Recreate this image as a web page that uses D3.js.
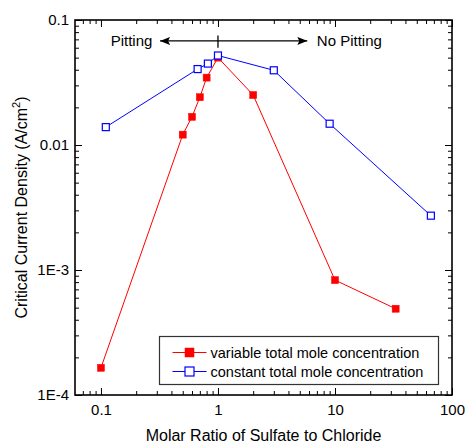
<!DOCTYPE html>
<html>
<head>
<meta charset="utf-8">
<script src="https://cdn.jsdelivr.net/npm/d3@7"></script>
<style>
  body { margin: 0; background: #fff; }
  svg { display: block; font-family: "Liberation Sans", Arial, sans-serif; }
</style>
</head>
<body>
<svg id="chart" width="465" height="443"></svg>
<script>
// data
const variableX = [0.1, 0.5, 0.6, 0.7, 0.8, 1, 2, 10, 33];
const variableY = [1.65e-4, 0.0121, 0.0168, 0.0241, 0.0346, 0.050, 0.0251, 8.3e-4, 4.9e-4];
const constantX = [0.11, 0.67, 0.82, 1, 3, 9, 66];
const constantY = [0.0139, 0.0405, 0.0448, 0.052, 0.0396, 0.0148, 0.00272];

const seriesNames = ["variable total mole concentration", "constant total mole concentration"];
const xTicks = [0.1, 1, 10, 100];
const xTickLabels = ["0.1", "1", "10", "100"];
const yTicks = [1e-4, 1e-3, 0.01, 0.1];
const yTickLabels = ["1E-4", "1E-3", "0.01", "0.1"];
const xDomain = [0.06, 100];
const yDomain = [1e-4, 0.1];

// annotation (data space)
const arrowY = 0.068, arrowLeft = 0.32, arrowRight = 5.8, dividerX = 1;
const dividerTop = 0.075, dividerBottom = 0.06;
const leftLabel = "Pitting", rightLabel = "No Pitting";
const leftLabelX = 0.275, rightLabelX = 7.0;

const width = 465, height = 443;
const margin = {top: 20, right: 13, bottom: 48, left: 75};
const font = '"Liberation Sans", Arial, sans-serif';

const svg = d3.select("#chart");

const x = d3.scaleLog().domain(xDomain).range([margin.left, width - margin.right]);
const y = d3.scaleLog().domain(yDomain).range([height - margin.bottom, margin.top]);

// minor ticks 2..9 per decade inside the domain
function minorTicks(domain) {
  const out = [];
  for (let e = -6; e <= 3; e++) {
    for (let m = 2; m <= 9; m++) {
      const v = m * Math.pow(10, e);
      if (v > domain[0] * 1.0001 && v < domain[1] * 0.9999) out.push(+v.toPrecision(3));
    }
  }
  return out;
}
const xMinor = minorTicks(xDomain);
const yMinor = minorTicks(yDomain);

const plotW = width - margin.left - margin.right;
const plotH = height - margin.top - margin.bottom;
const MAJ = 7, MIN = 4;

function styleAxis(g) {
  g.selectAll(".domain").remove();
  g.selectAll(".tick line").attr("stroke", "#000").attr("stroke-width", 1);
  g.selectAll("text").attr("font-family", font).attr("font-size", 15).attr("fill", "#000");
}

// bottom
svg.append("g").attr("transform", `translate(0,${height - margin.bottom})`)
  .call(d3.axisBottom(x).tickValues(xTicks).tickFormat((d, i) => xTickLabels[i])
    .tickSizeInner(-MAJ).tickSizeOuter(0).tickPadding(9))
  .call(styleAxis);
svg.append("g").attr("transform", `translate(0,${height - margin.bottom})`)
  .call(d3.axisBottom(x).tickValues(xMinor).tickFormat("").tickSizeInner(-MIN).tickSizeOuter(0))
  .call(styleAxis);
// top
svg.append("g").attr("transform", `translate(0,${margin.top})`)
  .call(d3.axisTop(x).tickValues(xTicks).tickFormat("").tickSizeInner(-MAJ).tickSizeOuter(0))
  .call(styleAxis);
svg.append("g").attr("transform", `translate(0,${margin.top})`)
  .call(d3.axisTop(x).tickValues(xMinor).tickFormat("").tickSizeInner(-MIN).tickSizeOuter(0))
  .call(styleAxis);
// left
svg.append("g").attr("transform", `translate(${margin.left},0)`)
  .call(d3.axisLeft(y).tickValues(yTicks).tickFormat((d, i) => yTickLabels[i])
    .tickSizeInner(-MAJ).tickSizeOuter(0).tickPadding(6))
  .call(styleAxis);
svg.append("g").attr("transform", `translate(${margin.left},0)`)
  .call(d3.axisLeft(y).tickValues(yMinor).tickFormat("").tickSizeInner(-MIN).tickSizeOuter(0))
  .call(styleAxis);
// right
svg.append("g").attr("transform", `translate(${width - margin.right},0)`)
  .call(d3.axisRight(y).tickValues(yTicks).tickFormat("").tickSizeInner(-MAJ).tickSizeOuter(0))
  .call(styleAxis);
svg.append("g").attr("transform", `translate(${width - margin.right},0)`)
  .call(d3.axisRight(y).tickValues(yMinor).tickFormat("").tickSizeInner(-MIN).tickSizeOuter(0))
  .call(styleAxis);

// frame
svg.append("rect")
  .attr("x", margin.left).attr("y", margin.top)
  .attr("width", plotW).attr("height", plotH)
  .attr("fill", "none").attr("stroke", "#000").attr("stroke-width", 1.6);

// annotation arrow
const ann = svg.append("g");
const defs = svg.append("defs");
defs.append("marker").attr("id", "arrow")
  .attr("viewBox", "0 0 10 8").attr("refX", 10).attr("refY", 4)
  .attr("markerWidth", 10).attr("markerHeight", 8).attr("markerUnits", "userSpaceOnUse")
  .attr("orient", "auto")
  .append("path").attr("d", "M0,0 L10,4 L0,8 L2,4 Z").attr("fill", "#000");
ann.append("line")
  .attr("x1", x(dividerX)).attr("x2", x(arrowLeft))
  .attr("y1", y(arrowY)).attr("y2", y(arrowY))
  .attr("stroke", "#000").attr("stroke-width", 1.3).attr("marker-end", "url(#arrow)");
ann.append("line")
  .attr("x1", x(dividerX)).attr("x2", x(arrowRight))
  .attr("y1", y(arrowY)).attr("y2", y(arrowY))
  .attr("stroke", "#000").attr("stroke-width", 1.3).attr("marker-end", "url(#arrow)");
ann.append("line")
  .attr("x1", x(dividerX)).attr("x2", x(dividerX))
  .attr("y1", y(dividerTop)).attr("y2", y(dividerBottom))
  .attr("stroke", "#000").attr("stroke-width", 1.3);
ann.append("text").attr("x", x(leftLabelX)).attr("y", y(arrowY)).attr("dy", "0.36em")
  .attr("text-anchor", "end").attr("font-size", 15).text(leftLabel);
ann.append("text").attr("x", x(rightLabelX)).attr("y", y(arrowY)).attr("dy", "0.36em")
  .attr("text-anchor", "start").attr("font-size", 15).text(rightLabel);

// series
const series = [
  {name: seriesNames[0], xs: variableX, ys: variableY, color: "#ff0000", filled: true},
  {name: seriesNames[1], xs: constantX, ys: constantY, color: "#0000ff", filled: false}
];
const line = d3.line().x(d => x(d[0])).y(d => y(d[1]));
const S = 7;

series.forEach(s => {
  const pts = s.xs.map((v, i) => [v, s.ys[i]]);
  svg.append("path").datum(pts)
    .attr("d", line).attr("fill", "none")
    .attr("stroke", s.color).attr("stroke-width", 1);
  svg.append("g").selectAll("rect").data(pts).join("rect")
    .attr("x", d => x(d[0]) - S / 2).attr("y", d => y(d[1]) - S / 2)
    .attr("width", S).attr("height", S)
    .attr("fill", s.filled ? s.color : "#fff")
    .attr("stroke", s.color).attr("stroke-width", s.filled ? 0.5 : 1.2);
});

// legend
const lg = svg.append("g");
const lgX = 159.5, lgY = 336.5, lgW = 279, lgH = 48;
lg.append("rect").attr("x", lgX).attr("y", lgY).attr("width", lgW).attr("height", lgH)
  .attr("fill", "#fff").attr("stroke", "#333").attr("stroke-width", 1.2);
series.forEach((s, i) => {
  const ry = lgY + 16 + i * 19;
  lg.append("line").attr("x1", lgX + 13).attr("x2", lgX + 47).attr("y1", ry).attr("y2", ry)
    .attr("stroke", s.color).attr("stroke-width", 1);
  const ms = 9;
  lg.append("rect").attr("x", lgX + 30 - ms / 2).attr("y", ry - ms / 2).attr("width", ms).attr("height", ms)
    .attr("fill", s.filled ? s.color : "#fff").attr("stroke", s.color).attr("stroke-width", s.filled ? 0.5 : 1.2);
  lg.append("text").attr("x", lgX + 51).attr("y", ry).attr("dy", "0.36em")
    .attr("font-size", 14.5).text(s.name);
});

// axis titles
svg.append("text")
  .attr("x", margin.left + plotW / 2).attr("y", 441)
  .attr("text-anchor", "middle").attr("font-size", 16)
  .text("Molar Ratio of Sulfate to Chloride");

const yt = svg.append("text")
  .attr("transform", `translate(27,${margin.top + plotH / 2}) rotate(-90)`)
  .attr("text-anchor", "middle").attr("font-size", 16);
yt.append("tspan").text("Critical Current Density (A/cm");
yt.append("tspan").attr("font-size", 11).attr("dy", -7).text("2");
yt.append("tspan").attr("dy", 7).text(")");
</script>
</body>
</html>
